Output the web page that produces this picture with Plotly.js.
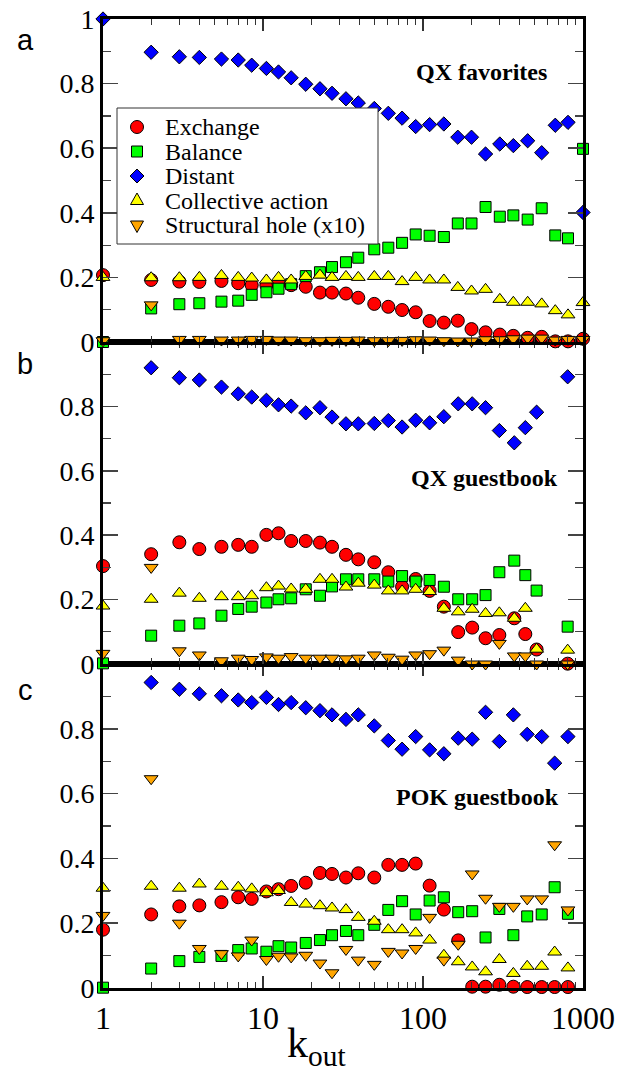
<!DOCTYPE html>
<html>
<head>
<meta charset="utf-8">
<script src="https://cdn.plot.ly/plotly-3.0.1.min.js"></script>
<style>
html,body{margin:0;padding:0;background:#fff;}
#chart{width:633px;height:1072px;}
</style>
</head>
<body>
<div id="chart"></div>
<script>
// ---------- data ----------
const seriesNames = ["Exchange", "Balance", "Distant", "Collective action", "Structural hole (x10)"];
const panelTitles = ["QX favorites", "QX guestbook", "POK guestbook"];
const panelLetters = ["a", "b", "c"];
const yTickVals = [0, 0.2, 0.4, 0.6, 0.8, 1];
const yTickText = ["0", "0.2", "0.4", "0.6", "0.8", "1"];
const xTickVals = [1, 10, 100, 1000];
const xTickText = ["1", "10", "100", "1000"];

// panel a: QX favorites
const xA = [1,2,3,4,5.5,7,8.5,10.5,12.5,15,18.5,22.7,27,33,39.4,49.6,60.7,74,90,110,135,165,201,246,302,367,451,552,671,806,1000];
const exchangeA = [0.207,0.192,0.187,0.186,0.189,0.182,0.176,0.176,0.180,0.176,0.171,0.153,0.153,0.150,0.137,0.118,0.109,0.099,0.092,0.065,0.060,0.066,0.040,0.030,0.023,0.019,0.013,0.016,0.002,0.002,0.010];
const balanceA = [0,0.104,0.117,0.120,0.125,0.128,0.146,0.154,0.165,0.179,0.204,0.216,0.232,0.247,0.261,0.287,0.292,0.307,0.333,0.329,0.325,0.367,0.367,0.418,0.388,0.392,0.379,0.414,0.330,0.321,0.598];
const distantA = [1.0,0.897,0.883,0.881,0.876,0.873,0.857,0.847,0.836,0.818,0.798,0.784,0.770,0.753,0.740,0.723,0.708,0.693,0.667,0.673,0.675,0.634,0.634,0.582,0.613,0.608,0.623,0.586,0.671,0.680,0.401];
const collectiveA = [0.200,0.199,0.199,0.200,0.206,0.200,0.198,0.192,0.200,0.192,0.203,0.207,0.200,0.203,0.200,0.203,0.203,0.187,0.200,0.192,0.192,0.169,0.158,0.163,0.132,0.123,0.123,0.118,0.097,0.084,0.122];
const structuralA = [0.004,0.115,0.008,0.008,0.006,0.006,0.008,0.008,0.006,0.006,0.004,0.004,0.005,0.005,0.006,0.004,0.004,0.005,0.007,0.006,0.004,0.003,0.003,0.007,0.007,0.010,0.012,0.012,0.006,0.008,0.008];

// panel b: QX guestbook
const xB = [1,2,3,4,5.5,7,8.5,10.5,12.5,15,18.5,22.7,27,33,39.4,49.6,60.7,74,90,110,135,166,203,246,300,372,436,513,802];
const exchangeB = [0.304,0.341,0.378,0.357,0.364,0.370,0.364,0.401,0.406,0.382,0.382,0.377,0.364,0.339,0.325,0.316,0.285,0.240,0.264,0.227,0.178,0.099,0.113,0.080,0.090,0.142,0.093,0.045,0.001];
const balanceB = [0.002,0.088,0.119,0.126,0.150,0.171,0.178,0.191,0.201,0.204,0.232,0.212,0.241,0.263,0.263,0.263,0.256,0.273,0.256,0.261,0.240,0.201,0.201,0.214,0.285,0.321,0.276,0.228,0.116];
const distantB = [null,0.920,0.889,0.882,0.860,0.839,0.829,0.819,0.805,0.801,0.780,0.796,0.767,0.746,0.746,0.747,0.756,0.736,0.757,0.749,0.768,0.808,0.808,0.796,0.725,0.687,0.734,0.782,0.892];
const collectiveB = [0.180,0.201,0.220,0.204,0.209,0.209,0.212,0.237,0.242,0.233,0.232,0.263,0.263,0.239,0.251,0.245,0.227,0.227,0.232,0.225,0.173,0.162,0.170,0.157,0.159,0.142,0.173,0.046,0.043];
const structuralB = [0.033,0.300,0.041,0.028,0.010,0.018,0.014,0.022,0.018,0.023,0.018,0.018,0.018,0.016,0.018,0.028,0.021,0.015,0.028,0.032,0.043,0.012,0.0,0.0,0.064,0.025,0.025,0.0,0.0];

// panel c: POK guestbook
const xC = [1,2,3,4,5.5,7,8.5,10.5,12.5,15,18.5,22.7,27,33,39.4,49.6,60.7,74,90,110,135,166,203,246,300,367,448,552,665,805];
const exchangeC = [0.180,0.227,0.252,0.255,0.265,0.280,0.275,0.298,0.305,0.315,0.325,0.355,0.352,0.341,0.354,0.341,0.380,0.380,0.384,0.316,0.242,0.147,0.004,0.004,0.010,0.004,0.003,0.003,0.003,0.003];
const balanceC = [0.001,0.060,0.083,0.096,0.099,0.117,0.122,0.112,0.129,0.125,0.139,0.148,0.163,0.176,0.163,0.195,0.241,0.268,0.227,0.270,0.280,0.234,0.237,0.156,0.244,0.163,0.221,0.227,0.311,0.229];
const distantC = [null,0.943,0.922,0.908,0.902,0.889,0.881,0.897,0.875,0.881,0.865,0.856,0.843,0.829,0.843,0.809,0.764,0.737,0.776,0.735,0.723,0.771,0.768,0.851,0.761,0.843,0.783,0.776,0.694,0.776];
const collectiveC = [0.308,0.314,0.308,0.321,0.314,0.311,0.306,0.294,0.301,0.264,0.259,0.254,0.247,0.242,0.218,0.206,0.180,0.180,0.170,0.148,0.101,0.081,0.065,0.050,0.088,0.045,0.067,0.067,0.111,0.062];
const structuralC = [0.224,0.646,0.200,0.122,0.106,0.099,0.148,0.088,0.098,0.096,0.101,0.077,0.047,0.119,0.086,0.073,0.113,0.108,0.122,0.218,0.086,0.135,0.352,0.277,0.252,0.252,0.275,0.275,0.442,0.241];

// ---------- styling ----------
const SERIF = "Liberation Serif";
const SANS = "Liberation Sans";
const markerStyles = [
  {symbol: "circle", size: 13, color: "#ff0000"},
  {symbol: "square", size: 11, color: "#00ff00"},
  {symbol: "diamond", size: 11, color: "#0000ff"},
  {symbol: "triangle-up", size: 12, color: "#ffff00"},
  {symbol: "triangle-down", size: 12, color: "#ffa500"}
];

const panels = [
  {x: xA, ys: [exchangeA, balanceA, distantA, collectiveA, structuralA], xa: "x3", ya: "y3"},
  {x: xB, ys: [exchangeB, balanceB, distantB, collectiveB, structuralB], xa: "x2", ya: "y2"},
  {x: xC, ys: [exchangeC, balanceC, distantC, collectiveC, structuralC], xa: "x", ya: "y"}
];

const traces = [];
panels.forEach((p, pi) => {
  p.ys.forEach((yv, si) => {
    const m = markerStyles[si];
    traces.push({
      type: "scatter", mode: "markers",
      x: p.x, y: yv, xaxis: p.xa, yaxis: p.ya,
      name: seriesNames[si], showlegend: false,
      cliponaxis: false,
      marker: {symbol: m.symbol, size: m.size, color: m.color, line: {color: "#000", width: 1}}
    });
  });
});

const minorX = [];
for (let d = 1; d <= 100; d *= 10) for (let k = 2; k <= 9; k++) minorX.push(k * d);

function xAxis(anchor, showLabels) {
  return {
    type: "log", range: [0, 3], anchor: anchor,
    showgrid: false, zeroline: false,
    showline: true, linecolor: "#000", linewidth: 3, mirror: "ticks",
    ticks: "inside", ticklen: 12, tickwidth: 1.5, tickcolor: "#333",
    tickvals: xTickVals, ticktext: xTickText, showticklabels: showLabels,
    tickfont: {family: SERIF, size: 32, color: "#000"},
    minor: {tickvals: minorX, ticks: "inside", ticklen: 6, tickwidth: 1.2, tickcolor: "#333", showgrid: false}
  };
}
function yAxis(anchor, domain, withOne) {
  const n = withOne ? 6 : 5;
  return {
    range: [0, 1], domain: domain, anchor: anchor,
    showgrid: false, zeroline: false,
    showline: true, linecolor: "#000", linewidth: 3, mirror: "ticks",
    ticks: "inside", ticklen: 15, tickwidth: 1.5, tickcolor: "#444",
    tickvals: yTickVals.slice(0, n), ticktext: yTickText.slice(0, n),
    tickfont: {family: SERIF, size: 28, color: "#000"},
    minor: {dtick: 0.1, ticks: "inside", ticklen: 8, tickwidth: 1.2, tickcolor: "#444", showgrid: false}
  };
}

const PL = 103, PW = 480, yTop = 19, yBot = 988, H = yBot - yTop;
const px2x = px => (px - PL) / PW;
const px2y = py => (yBot - py) / H;
const b1 = px2y(664), b2 = px2y(342);

const annotations = [];
const shapes = [];
const titlePos = [[481, 72], [484, 478], [477, 797]];
panelTitles.forEach((t, i) => {
  annotations.push({
    xref: "paper", yref: "paper", x: px2x(titlePos[i][0]), y: px2y(titlePos[i][1]),
    xanchor: "center", yanchor: "middle", showarrow: false,
    text: "<b>" + t + "</b>", font: {family: SERIF, size: 24, color: "#000"}
  });
});
const letterY = [40, 364, 690];
panelLetters.forEach((t, i) => {
  annotations.push({
    xref: "paper", yref: "paper", x: px2x(25), y: px2y(letterY[i]),
    xanchor: "center", yanchor: "middle", showarrow: false,
    text: t, font: {family: SANS, size: 29, color: "#000"}
  });
});
annotations.push({
  xref: "paper", yref: "paper", x: px2x(316), y: px2y(1046),
  xanchor: "center", yanchor: "middle", showarrow: false,
  text: "k<sub>out</sub>", font: {family: SERIF, size: 42, color: "#000"}
});

// ---------- legend (drawn box, keys and labels) ----------
shapes.push({type: "rect", xref: "paper", yref: "paper", layer: "above",
  x0: px2x(117), x1: px2x(378), y0: px2y(244), y1: px2y(108),
  line: {color: "#333", width: 1}, fillcolor: "#fff"});
const legendRows = [127, 151.5, 176, 200.5, 225];
const keyPaths = [null, null, "M0,7L7,0L0,-7L-7,0Z", "M-6.5,-4L6.5,-4L0,7.5Z", "M-6.5,4L6.5,4L0,-7.5Z"];
seriesNames.forEach((name, i) => {
  const m = markerStyles[i];
  const base = {xref: "paper", yref: "paper", layer: "above",
    xsizemode: "pixel", ysizemode: "pixel", xanchor: px2x(137), yanchor: px2y(legendRows[i]),
    fillcolor: m.color, line: {color: "#000", width: 1}};
  if (i === 0) shapes.push(Object.assign({type: "circle", x0: -6.5, x1: 6.5, y0: -6.5, y1: 6.5}, base));
  else if (i === 1) shapes.push(Object.assign({type: "rect", x0: -5.5, x1: 5.5, y0: -5.5, y1: 5.5}, base));
  else shapes.push(Object.assign({type: "path", path: keyPaths[i]}, base));
  annotations.push({
    xref: "paper", yref: "paper", x: px2x(163), y: px2y(legendRows[i]),
    xanchor: "left", yanchor: "middle", showarrow: false,
    text: name, font: {family: SERIF, size: 24, color: "#000"}
  });
});

const layout = {
  width: 633, height: 1072,
  margin: {l: 103, r: 50, t: 19, b: 84},
  paper_bgcolor: "#fff", plot_bgcolor: "#fff",
  font: {family: SERIF, color: "#000"},
  showlegend: false,
  xaxis: xAxis("y", true),
  xaxis2: xAxis("y2", false),
  xaxis3: xAxis("y3", false),
  yaxis: yAxis("x", [0, b1], false),
  yaxis2: yAxis("x2", [b1, b2], false),
  yaxis3: yAxis("x3", [b2, 1], true),
  annotations: annotations,
  shapes: shapes
};

Plotly.newPlot("chart", traces, layout, {displayModeBar: false, staticPlot: true});
</script>
</body>
</html>
